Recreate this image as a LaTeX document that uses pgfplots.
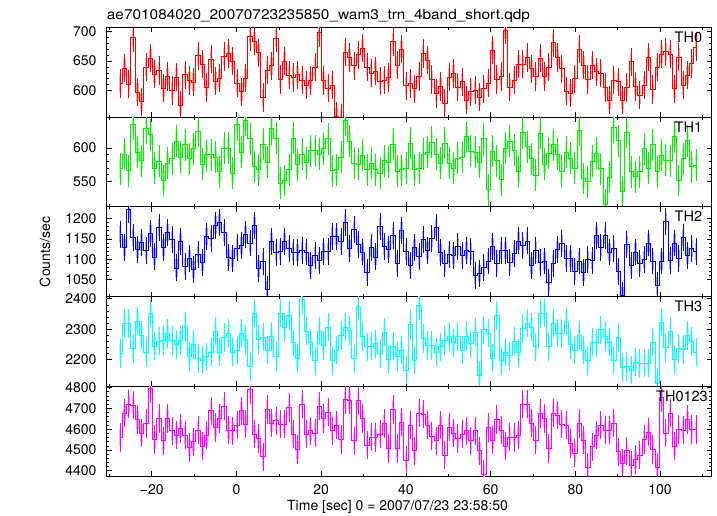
\documentclass[border=0pt]{standalone}
\usepackage{pgfplots}
\usepackage{pgfplotstable}
\usepackage{graphicx}
\usepackage{fontspec}
\setmainfont{TeX Gyre Heros}
\pgfplotsset{compat=1.18}

\definecolor{qred}{RGB}{255,0,0}
\definecolor{qgreen}{RGB}{0,240,0}
\definecolor{qblue}{RGB}{0,0,255}
\definecolor{qcyan}{RGB}{0,255,255}
\definecolor{qmag}{RGB}{255,0,255}

\pgfplotstableread[row sep=\\]{v\\612\\638\\611\\690\\597\\581\\640\\655\\628\\634\\604\\624\\600\\623\\575\\627\\617\\614\\659\\645\\605\\653\\616\\621\\658\\663\\650\\613\\598\\621\\692\\684\\664\\588\\635\\642\\689\\619\\650\\626\\622\\627\\618\\609\\617\\640\\698\\617\\604\\609\\556\\553\\665\\656\\642\\661\\672\\640\\630\\633\\616\\618\\622\\683\\643\\670\\608\\612\\603\\624\\663\\652\\619\\595\\607\\578\\623\\629\\606\\615\\584\\598\\601\\589\\603\\613\\669\\619\\624\\703\\606\\618\\645\\645\\656\\637\\624\\655\\624\\640\\681\\656\\637\\599\\596\\620\\670\\643\\619\\643\\632\\630\\605\\584\\618\\615\\584\\605\\649\\607\\592\\609\\657\\602\\640\\662\\666\\662\\603\\657\\609\\626\\646\\674\\}\tA

\pgfplotstableread[row sep=\\]{v\\569\\591\\566\\636\\594\\581\\630\\620\\570\\580\\551\\577\\584\\610\\586\\605\\584\\599\\625\\576\\590\\590\\586\\564\\600\\600\\562\\635\\594\\642\\614\\572\\567\\606\\579\\629\\615\\547\\551\\567\\615\\575\\591\\578\\596\\596\\591\\599\\614\\566\\567\\586\\642\\610\\577\\576\\589\\567\\577\\567\\562\\581\\579\\606\\565\\567\\570\\607\\567\\570\\591\\594\\609\\591\\577\\607\\577\\570\\585\\586\\617\\595\\594\\579\\614\\537\\595\\581\\552\\600\\610\\597\\565\\623\\602\\584\\559\\622\\576\\592\\605\\591\\565\\594\\585\\570\\627\\554\\549\\580\\592\\569\\515\\556\\631\\611\\534\\624\\564\\557\\564\\599\\570\\605\\564\\589\\582\\581\\617\\551\\584\\611\\572\\574\\}\tB

\pgfplotstableread[row sep=\\]{v\\1161\\1130\\1222\\1153\\1124\\1141\\1122\\1163\\1106\\1177\\1129\\1166\\1149\\1079\\1143\\1083\\1102\\1075\\1112\\1092\\1155\\1151\\1184\\1190\\1165\\1104\\1102\\1128\\1134\\1161\\1140\\1182\\1077\\1095\\1026\\1143\\1116\\1120\\1143\\1126\\1118\\1116\\1122\\1118\\1085\\1110\\1098\\1120\\1120\\1157\\1155\\1143\\1190\\1126\\1173\\1137\\1118\\1069\\1129\\1106\\1181\\1132\\1124\\1159\\1091\\1170\\1120\\1084\\1130\\1107\\1148\\1122\\1151\\1178\\1116\\1091\\1112\\1110\\1132\\1110\\1122\\1120\\1061\\1066\\1081\\1096\\1132\\1091\\1122\\1122\\1093\\1114\\1145\\1134\\1145\\1085\\1122\\1093\\1096\\1044\\1089\\1124\\1139\\1102\\1102\\1071\\1096\\1069\\1099\\1098\\1159\\1130\\1159\\1118\\1126\\1071\\1011\\1137\\1085\\1118\\1089\\1099\\1140\\1096\\1036\\1096\\1192\\1098\\1140\\1102\\1153\\1110\\1126\\1120\\}\tC

\pgfplotstableread[row sep=\\]{v\\2220\\2318\\2318\\2236\\2327\\2280\\2223\\2353\\2244\\2261\\2263\\2285\\2263\\2250\\2263\\2309\\2211\\2250\\2203\\2198\\2209\\2225\\2294\\2225\\2272\\2285\\2225\\2231\\2287\\2266\\2178\\2353\\2266\\2274\\2231\\2276\\2211\\2353\\2305\\2345\\2255\\2203\\2397\\2294\\2255\\2196\\2294\\2247\\2307\\2196\\2231\\2280\\2307\\2296\\2203\\2375\\2276\\2242\\2244\\2252\\2220\\2291\\2200\\2244\\2211\\2231\\2165\\2316\\2198\\2378\\2269\\2247\\2247\\2225\\2242\\2263\\2276\\2255\\2276\\2231\\2276\\2252\\2291\\2149\\2298\\2287\\2203\\2345\\2196\\2225\\2214\\2261\\2222\\2302\\2320\\2307\\2242\\2351\\2353\\2242\\2318\\2287\\2285\\2327\\2250\\2231\\2280\\2231\\2196\\2258\\2255\\2298\\2276\\2258\\2198\\2272\\2174\\2178\\2165\\2192\\2187\\2189\\2189\\2258\\2121\\2323\\2239\\2294\\2200\\2236\\2233\\2280\\2261\\2225\\}\tD

\pgfplotstableread[row sep=\\]{v\\4560\\4678\\4720\\4715\\4646\\4582\\4627\\4795\\4550\\4651\\4544\\4651\\4592\\4571\\4603\\4571\\4512\\4539\\4595\\4518\\4571\\4688\\4608\\4651\\4710\\4595\\4592\\4619\\4688\\4624\\4790\\4576\\4555\\4467\\4694\\4630\\4640\\4624\\4624\\4704\\4576\\4502\\4720\\4576\\4592\\4582\\4710\\4651\\4683\\4592\\4619\\4550\\4742\\4739\\4544\\4736\\4651\\4523\\4563\\4560\\4576\\4627\\4507\\4694\\4507\\4635\\4451\\4619\\4496\\4678\\4672\\4619\\4566\\4544\\4619\\4475\\4611\\4582\\4555\\4576\\4592\\4544\\4592\\4496\\4384\\4608\\4547\\4646\\4595\\4518\\4563\\4560\\4571\\4720\\4720\\4630\\4547\\4675\\4651\\4507\\4678\\4667\\4624\\4619\\4531\\4486\\4627\\4547\\4416\\4515\\4571\\4619\\4595\\4595\\4630\\4491\\4435\\4496\\4427\\4454\\4475\\4550\\4587\\4502\\4416\\4752\\4582\\4678\\4518\\4598\\4595\\4646\\4598\\4598\\}\tE

\pgfplotsset{
  panel/.style={
    scale only axis, width=605bp, height=89.75bp, anchor=north west,
    xmin=-30.65, xmax=112.2,
    xtick={-20,0,...,100}, minor xtick={-30,-10,...,110},
    xticklabels={},
    tick align=inside, xtick pos=both, ytick pos=both,
    major tick length=5bp, minor tick length=2.5bp,
    major tick style={black, line width=0.7bp},
    minor tick style={black, line width=0.6bp},
    minor y tick num=4,
    axis line style={black, line width=0.8bp},
    tick label style={font=\fontsize{14bp}{16bp}\selectfont},
    yticklabel style={anchor=east, inner sep=0pt, xshift=-10bp},
    xticklabel style={anchor=north, inner sep=0pt, yshift=-8bp},
    /pgf/number format/assume math mode=true,
    /pgf/number format/1000 sep={},
    scaled y ticks=false,
  },
  lcband/.style 2 args={draw=none, mark=none, forget plot,
    error bars/y dir=both, error bars/y fixed=#2, error bars/error mark=none,
    error bars/error bar style={line width=2.4bp, draw=#1!32, solid}},
  lcstep/.style 2 args={const plot mark mid, color=#1, draw=#1, line width=0.8bp, mark=none,
    error bars/y dir=both, error bars/y fixed=#2, error bars/error mark=none,
    error bars/error bar style={line width=0.75bp, draw=#1, solid}},
}
\tikzset{tlab/.style={anchor=north east, inner sep=0pt, font=\fontsize{14.5bp}{16bp}\selectfont}}

\begin{document}
\fontsize{14bp}{16bp}\selectfont
\begin{tikzpicture}
\path[use as bounding box] (0,0) rectangle (717bp,516bp);

% TH0
\begin{axis}[panel, at={(106.7bp,488.7bp)}, ymin=555, ymax=707.5, ytick={600,650,700}]
\addplot[lcband={qred}{15}] table[x expr=-27.5+\coordindex*1.0226, y=v] {\tA};
\addplot[lcstep={qred}{24}] table[x expr=-27.5+\coordindex*1.0226, y=v] {\tA};
\node[tlab] at (rel axis cs:1,1) [xshift=-9.4bp, yshift=-4.4bp] {TH0};
\end{axis}

% TH1
\begin{axis}[panel, at={(106.7bp,398.95bp)}, ymin=511.5, ymax=646.5, ytick={550,600}]
\addplot[lcband={qgreen}{15}] table[x expr=-27.5+\coordindex*1.0226, y=v] {\tB};
\addplot[lcstep={qgreen}{24}] table[x expr=-27.5+\coordindex*1.0226, y=v] {\tB};
\node[tlab] at (rel axis cs:1,1) [xshift=-9.4bp, yshift=-4.4bp] {TH1};
\end{axis}

% TH2
\begin{axis}[panel, at={(106.7bp,309.2bp)}, ymin=1009, ymax=1228.6, ytick={1050,1100,1150,1200}]
\addplot[lcband={qblue}{21}] table[x expr=-27.5+\coordindex*1.0226, y=v] {\tC};
\addplot[lcstep={qblue}{33}] table[x expr=-27.5+\coordindex*1.0226, y=v] {\tC};
\node[tlab] at (rel axis cs:1,1) [xshift=-9.4bp, yshift=-4.4bp] {TH2};
\end{axis}

% TH3
\begin{axis}[panel, at={(106.7bp,219.45bp)}, ymin=2112, ymax=2407.5, ytick={2200,2300,2400}]
\addplot[lcband={qcyan}{30}] table[x expr=-27.5+\coordindex*1.0226, y=v] {\tD};
\addplot[lcstep={qcyan}{47}] table[x expr=-27.5+\coordindex*1.0226, y=v] {\tD};
\node[tlab] at (rel axis cs:1,1) [xshift=-9.4bp, yshift=-4.4bp] {TH3};
\end{axis}

% TH0123
\begin{axis}[panel, at={(106.7bp,129.7bp)}, ymin=4375, ymax=4806, ytick={4400,4500,4600,4700,4800},
  xticklabels={−20,0,20,40,60,80,100}]
\addplot[lcband={qmag}{43}] table[x expr=-27.5+\coordindex*1.0226, y=v] {\tE};
\addplot[lcstep={qmag}{68}] table[x expr=-27.5+\coordindex*1.0226, y=v] {\tE};
\node[tlab] at (rel axis cs:1,1) [xshift=-3.7bp, yshift=-4.7bp] {TH0123};
\end{axis}

\node[anchor=base west, inner sep=0pt] at (106.7bp,496bp) {\scalebox{1.1}[1]{ae701084020\_20070723235850\_wam3\_trn\_4band\_short.qdp}};
\node[rotate=90, inner sep=0pt] at (45bp,264bp) {Counts/sec};
\node[anchor=base, inner sep=0pt] at (397.5bp,5.3bp) {Time [sec] 0 = 2007/07/23 23:58:50};
\end{tikzpicture}
\end{document}
